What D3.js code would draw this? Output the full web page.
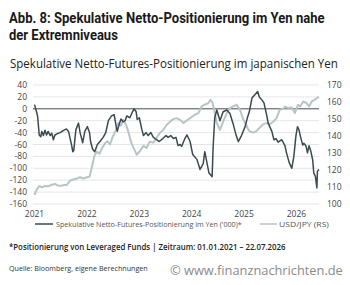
<!DOCTYPE html>
<html lang="de">
<head>
<meta charset="UTF-8">
<title>Abb. 8</title>
<script src="https://cdnjs.cloudflare.com/ajax/libs/d3/7.9.0/d3.min.js"></script>
<style>
    body { margin: 0; background: #fff; }
    svg { display: block; font-family: "Open Sans", sans-serif; }
</style>
</head>
<body>
<svg id="chart" width="350" height="285"></svg>
<script>
// net speculative futures positioning in JPY ('000), left axis; time as decimal year
const netDates = [2021.00, 2021.03, 2021.06, 2021.09, 2021.12, 2021.14, 2021.17, 2021.20, 2021.23, 2021.26,
    2021.30, 2021.33, 2021.36, 2021.39, 2021.43, 2021.49, 2021.54, 2021.58, 2021.61, 2021.65,
    2021.68, 2021.71, 2021.73, 2021.75, 2021.79, 2021.84, 2021.87, 2021.92, 2021.96, 2022.01,
    2022.05, 2022.07, 2022.11, 2022.15, 2022.20, 2022.25, 2022.31, 2022.36, 2022.41, 2022.47,
    2022.52, 2022.56, 2022.58, 2022.62, 2022.65, 2022.69, 2022.73, 2022.76, 2022.82, 2022.87,
    2022.90, 2022.94, 2022.96, 2023.00, 2023.05, 2023.08, 2023.13, 2023.17, 2023.22, 2023.27,
    2023.33, 2023.38, 2023.45, 2023.51, 2023.55, 2023.60, 2023.65, 2023.70, 2023.74, 2023.78,
    2023.81, 2023.87, 2023.91, 2023.97, 2024.02, 2024.10, 2024.16, 2024.22, 2024.25, 2024.29,
    2024.33, 2024.39, 2024.41, 2024.44, 2024.48, 2024.54, 2024.60, 2024.67, 2024.73, 2024.79,
    2024.85, 2024.89, 2024.95, 2025.02, 2025.06, 2025.10, 2025.15, 2025.21, 2025.26, 2025.29,
    2025.34, 2025.38, 2025.43, 2025.46, 2025.53, 2025.57, 2025.61, 2025.65, 2025.72, 2025.78,
    2025.81, 2025.86, 2025.91, 2025.95, 2025.99, 2026.02, 2026.05, 2026.08, 2026.12, 2026.14,
    2026.18, 2026.21, 2026.24, 2026.27, 2026.31, 2026.33, 2026.36, 2026.39, 2026.40, 2026.43];
const netValues = [7, -2, -13, -44, -47, -38, -45, -36, -44, -38,
    -45, -41, -52, -44, -42, -40, -37, -35, -34, -38,
    -50, -62, -72, -70, -35, -24, -40, -57, -38, -30,
    -40, -55, -68, -72, -60, -55, -48, -40, -20, -12,
    -10, -30, -38, -25, -17, -22, -20, -12, -15, -5,
    0, -5, -18, -15, -35, -45, -40, -45, -40, -48,
    -52, -55, -50, -45, -48, -45, -50, -48, -62, -60,
    -63, -50, -44, -55, -77, -85, -102, -92, -72, -90,
    -108, -114, -63, -15, -2, -20, -5, -2, -8, -25,
    -45, -55, -45, -30, -16, -5, 18, 24, 29, 20,
    15, 10, -10, -24, -38, -52, -50, -56, -52, -62,
    -74, -90, -100, -80, -45, -30, -36, -48, -61, -58,
    -62, -74, -62, -70, -86, -108, -113, -133, -105, -102];

// USD/JPY, right axis
const fxDates = [2021.00, 2021.04, 2021.09, 2021.14, 2021.20, 2021.26, 2021.33, 2021.39, 2021.45, 2021.52,
    2021.58, 2021.61, 2021.68, 2021.74, 2021.81, 2021.87, 2021.93, 2022.00, 2022.05, 2022.09,
    2022.14, 2022.19, 2022.24, 2022.28, 2022.35, 2022.39, 2022.44, 2022.49, 2022.54, 2022.60,
    2022.65, 2022.69, 2022.75, 2022.79, 2022.85, 2022.95, 2023.01, 2023.08, 2023.14, 2023.20,
    2023.27, 2023.33, 2023.39, 2023.46, 2023.52, 2023.59, 2023.65, 2023.71, 2023.78, 2023.84,
    2023.90, 2023.97, 2024.06, 2024.13, 2024.19, 2024.25, 2024.32, 2024.36, 2024.40, 2024.44,
    2024.48, 2024.54, 2024.60, 2024.67, 2024.73, 2024.79, 2024.86, 2024.92, 2024.98, 2025.02,
    2025.08, 2025.11, 2025.18, 2025.24, 2025.30, 2025.37, 2025.43, 2025.49, 2025.56, 2025.62,
    2025.68, 2025.75, 2025.78, 2025.84, 2025.91, 2025.97, 2026.03, 2026.07, 2026.13, 2026.19,
    2026.24, 2026.29, 2026.33, 2026.39, 2026.43];
const fxValues = [105.3, 108.3, 110.6, 109.8, 110.6, 110.4, 111.3, 111.8, 110.8, 110.8,
    111.3, 111.0, 113.8, 114.4, 115.0, 115.7, 115.0, 115.7, 116.0, 121.0,
    128.0, 130.9, 129.5, 132.3, 135.8, 137.0, 135.0, 139.3, 142.6, 147.6,
    146.0, 149.5, 146.5, 142.6, 135.8, 129.0, 131.0, 134.2, 133.0, 136.7,
    136.0, 139.0, 141.7, 143.7, 146.5, 148.5, 149.9, 150.5, 149.5, 147.6,
    149.0, 150.5, 152.5, 153.5, 157.4, 158.4, 159.4, 161.3, 159.4, 153.5,
    147.6, 143.6, 148.5, 153.5, 156.4, 157.4, 158.4, 155.5, 150.0, 147.6,
    144.0, 142.6, 142.0, 143.0, 145.0, 147.0, 147.6, 147.0, 148.5, 150.5,
    155.4, 156.0, 157.3, 156.5, 156.8, 153.5, 158.4, 157.4, 160.3, 159.4,
    157.4, 160.3, 161.0, 162.3, 163.0];

const yearTicks = [2021, 2022, 2023, 2024, 2025, 2026];
const leftTicks = [40, 20, 0, -20, -40, -60, -80, -100, -120, -140, -160];
const rightTicks = [170, 160, 150, 140, 130, 120, 110, 100];

const net = netDates.map((d, i) => ({ t: d, v: netValues[i] }));
const fx = fxDates.map((d, i) => ({ t: d, v: fxValues[i] }));

const svg = d3.select('#chart');
const x = d3.scaleLinear().domain([2021, 2026.43]).range([34.5, 319]);
const yL = d3.scaleLinear().domain([-160, 40]).range([204, 85]);
const yR = d3.scaleLinear().domain([100, 170]).range([204, 85]);

// squeeze a text horizontally to a given width (the reference uses condensed faces)
function fitText(px, py, width, txt, styles) {
    const g = svg.append('g');
    const t = g.append('text').text(txt);
    for (const k in styles) t.style(k, styles[k]);
    const w = t.node().getComputedTextLength();
    g.attr('transform', `translate(${px},${py}) scale(${width / w},1)`);
    return t;
}

const titleStyle = { 'font-family': 'Roboto, sans-serif', 'font-weight': 700, 'font-size': '14.5px', 'fill': '#1a1a1a' };
fitText(9, 23, 316, 'Abb. 8: Spekulative Netto-Positionierung im Yen nahe', titleStyle);
fitText(9, 40, 109, 'der Extremniveaus', titleStyle);

fitText(10, 68, 328, 'Spekulative Netto-Futures-Positionierung im japanischen Yen', { 'font-size': '12.5px', 'fill': '#222' });

// grid
svg.append('g').selectAll('line').data(leftTicks).join('line')
    .attr('x1', 33).attr('x2', 319)
    .attr('y1', d => yL(d)).attr('y2', d => yL(d))
    .attr('stroke', '#e6e6e6').attr('stroke-width', 1);

// axis labels
svg.append('g').selectAll('text').data(leftTicks).join('text')
    .attr('x', 27).attr('y', d => yL(d) + 3)
    .attr('text-anchor', 'end').style('font-size', '8.5px').attr('fill', '#444')
    .text(d => d);
svg.append('g').selectAll('text').data(rightTicks).join('text')
    .attr('x', 327).attr('y', d => yR(d) + 3)
    .style('font-size', '8.5px').attr('fill', '#444')
    .text(d => d);
svg.append('g').selectAll('text').data(yearTicks).join('text')
    .attr('x', d => x(d)).attr('y', 216.5)
    .attr('text-anchor', 'middle').style('font-size', '8.5px').attr('fill', '#444')
    .text(d => d);

// zero line
svg.append('line').attr('x1', 33).attr('x2', 319)
    .attr('y1', yL(0)).attr('y2', yL(0))
    .attr('stroke', '#555').attr('stroke-width', 1);

// series
svg.append('path').datum(fx)
    .attr('d', d3.line().x(d => x(d.t)).y(d => yR(d.v)))
    .attr('fill', 'none').attr('stroke', '#b8c5c5').attr('stroke-width', 2).attr('stroke-linejoin', 'round');
svg.append('path').datum(net)
    .attr('d', d3.line().x(d => x(d.t)).y(d => yL(d.v)))
    .attr('fill', 'none').attr('stroke', '#3b4a4e').attr('stroke-width', 1.5).attr('stroke-linejoin', 'round');

// legend
svg.append('line').attr('x1', 35).attr('x2', 53).attr('y1', 224).attr('y2', 224).attr('stroke', '#3b4a4e').attr('stroke-width', 1.5);
fitText(56, 226.5, 186, "Spekulative Netto-Futures-Positionierung im Yen ('000)*", { 'font-size': '7.5px', 'fill': '#555' });
svg.append('line').attr('x1', 260).attr('x2', 277).attr('y1', 224).attr('y2', 224).attr('stroke', '#b8c5c5').attr('stroke-width', 1.5);
fitText(279, 226.5, 50, 'USD/JPY (RS)', { 'font-size': '7.5px', 'fill': '#555' });

// notes
fitText(9, 249.5, 277, '*Positionierung von Leveraged Funds | Zeitraum: 01.01.2021 – 22.07.2026',
    { 'font-size': '8px', 'font-weight': 600, 'fill': '#222' });
fitText(9, 271, 139, 'Quelle: Bloomberg, eigene Berechnungen', { 'font-size': '6.5px', 'fill': '#333' });
fitText(170, 275, 173, '© www.finanznachrichten.de', { 'font-size': '12.5px', 'fill': '#8a8a8a' });
</script>
</body>
</html>
